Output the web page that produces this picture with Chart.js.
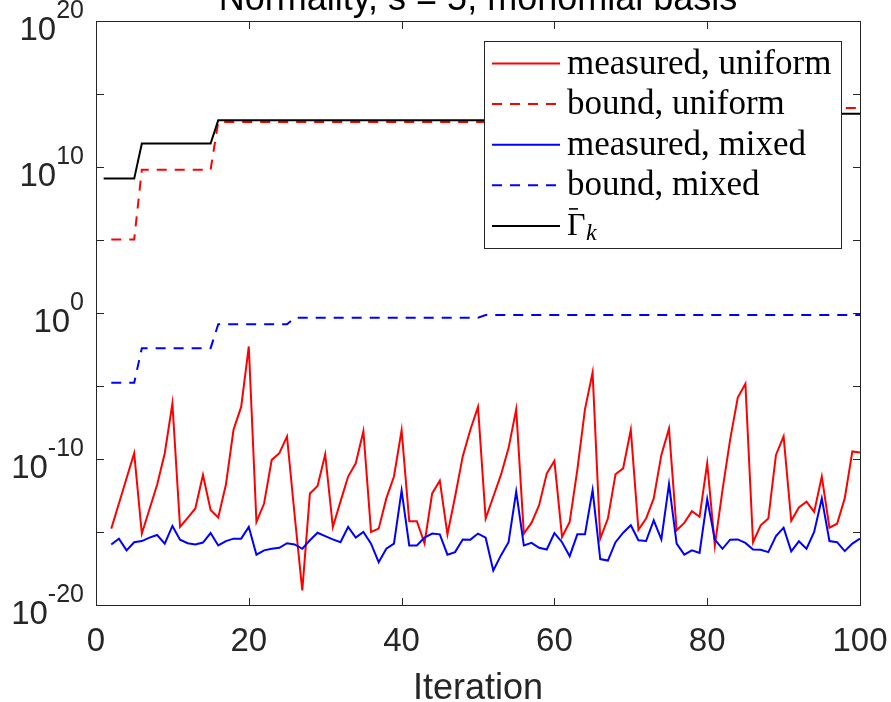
<!DOCTYPE html>
<html>
<head>
<meta charset="utf-8">
<script src="https://cdn.jsdelivr.net/npm/chart.js@4.4.1/dist/chart.umd.min.js"></script>
<style>
    html, body { margin: 0; padding: 0; background: #ffffff; }
    #wrap { width: 891px; height: 702px; }
</style>
</head>
<body>
<div id="wrap"><canvas id="chart" width="891" height="702"></canvas></div>
<script>
// ─── Data ────────────────────────────────────────────────────────────────────

// measured series, iterations 2..100
const iterations = Array.from({ length: 99 }, (_, i) => i + 2);

const measuredUniform = [
    1.7e-15, 8.9e-14, 4.8e-12, 2.5e-10, 7.9e-16, 3.6e-14, 1.7e-12, 2.5e-10, 6.3e-7,
    2.2e-15, 9.3e-15, 4.1e-14, 8.1e-12, 3.2e-14, 9.8e-15, 1.7e-12, 1.0e-8, 3.7e-7, 5.1e-3,
    4.9e-15, 8.9e-14, 8.7e-11, 2.5e-10, 3.5e-9, 1.4e-14, 1.0e-19, 4.4e-13, 1.4e-12, 2.1e-10,
    2.2e-15, 1.2e-13, 6.3e-12, 5.1e-11, 7.9e-9, 1.0e-15, 1.7e-15, 2.0e-13, 6.3e-12, 9.3e-9,
    5.5e-15, 5.5e-15, 1.7e-16, 4.4e-13, 3.3e-12, 6.9e-16, 2.6e-13, 1.5e-10, 1.0e-8, 3.7e-7,
    8.3e-15, 2.6e-13, 8.1e-12, 5.6e-10, 2.5e-7, 7.8e-16, 4.2e-15, 6.9e-14, 1.0e-11, 7.4e-11,
    4.6e-16, 4.9e-15, 1.8e-11, 2.5e-7, 8.3e-5, 3.5e-16, 8.3e-15, 8.9e-12, 2.3e-11, 1.0e-8,
    1.4e-15, 8.3e-15, 2.0e-13, 1.9e-10, 1.2e-8, 1.3e-15, 4.2e-15, 2.7e-14, 1.1e-14, 5.1e-11,
    1.2e-16, 7.4e-13, 2.1e-9, 1.6e-6, 1.4e-5, 2.0e-16, 2.9e-15, 8.3e-15, 1.9e-10, 3.5e-9,
    5.8e-15, 4.8e-14, 1.2e-13, 2.4e-14, 6.3e-12, 2.0e-15, 3.7e-15, 2.0e-13, 3.3e-10, 2.8e-10,
];

const measuredMixed = [
    1.4e-16, 3.5e-16, 5.5e-17, 2.0e-16, 2.4e-16, 4.1e-16, 6.2e-16, 1.6e-16, 2.6e-15,
    3.0e-16, 1.7e-16, 1.4e-16, 1.9e-16, 8.5e-16, 1.2e-16, 2.4e-16, 3.5e-16, 3.5e-16, 2.2e-15,
    2.8e-17, 5.5e-17, 7.1e-17, 8.3e-17, 1.7e-16, 1.4e-16, 7.1e-17, 2.7e-16, 8.9e-16, 5.2e-16,
    3.1e-16, 2.0e-16, 2.2e-15, 4.1e-16, 1.0e-15, 1.6e-16, 8.5e-18, 7.1e-17, 1.6e-16, 6.8e-13,
    1.2e-16, 1.2e-16, 4.1e-16, 7.8e-16, 6.9e-16, 2.8e-17, 4.2e-17, 3.1e-16, 3.0e-16, 7.8e-16,
    4.1e-16, 2.3e-18, 2.5e-17, 2.0e-16, 5.8e-13, 1.2e-16, 1.8e-16, 8.3e-17, 6.3e-17, 8.5e-16,
    2.0e-16, 2.2e-17, 6.9e-16, 6.9e-16, 7.4e-13, 1.4e-17, 1.1e-17, 2.0e-16, 8.9e-16, 2.9e-15,
    2.7e-16, 2.4e-16, 6.3e-15, 3.1e-16, 1.9e-12, 1.6e-16, 2.8e-17, 5.5e-17, 3.7e-17, 1.8e-13,
    3.0e-16, 7.1e-17, 3.0e-16, 3.1e-16, 1.8e-16, 6.3e-17, 6.0e-17, 4.2e-17, 5.2e-16, 2.0e-15,
    4.7e-17, 2.3e-16, 7.1e-17, 1.0e-15, 2.0e-13, 2.4e-16, 2.0e-16, 4.9e-17, 1.6e-16, 3.5e-16,
];

// step-shaped series, given by their corner points
// (the last jump of the upper two is hidden behind the legend)
const boundUniformIter = [2, 5, 6, 15, 16, 70, 71, 100];
const boundUniform     = [1.1e5, 1.1e5, 6.6e9, 6.6e9, 1.2e13, 1.2e13, 1.1e14, 1.1e14];

const boundMixedIter = [2, 5, 6, 15, 16, 25, 26, 50, 51, 100];
const boundMixed     = [1.7e-5, 1.7e-5, 3.9e-3, 3.9e-3, 0.17, 0.17, 0.48, 0.48, 0.72, 0.72];

const gammaIter = [1, 5, 6, 15, 16, 70, 71, 100];
const gammaBar  = [1.6e9, 1.6e9, 4.0e11, 4.0e11, 1.6e13, 1.6e13, 4.5e13, 4.5e13];

// axes
const xTicks = [0, 20, 40, 60, 80, 100];
const yTicks = [1e-20, 1e-15, 1e-10, 1e-5, 1e0, 1e5, 1e10, 1e15, 1e20];
const yLabelTicks = [1e-20, 1e-10, 1e0, 1e10, 1e20];
const yLabelExp = ["-20", "-10", "0", "10", "20"];

const titleText = "Normality, s = 5, monomial basis";
const xLabelText = "Iteration";

const legendItems = [
    { label: "measured, uniform", color: "#ff0000", dash: [] },
    { label: "bound, uniform", color: "#ff0000", dash: [10, 8] },
    { label: "measured, mixed", color: "#0000ff", dash: [] },
    { label: "bound, mixed", color: "#0000ff", dash: [10, 8] },
    { label: "Γ", color: "#000000", dash: [], gamma: true },
];

// ─── Helpers ────────────────────────────────────────────────────────────────

const pts = (xs, ys) => xs.map((x, i) => ({ x, y: ys[i] }));

const AXIS = "#262626";
const SANS = '"Liberation Sans", Arial, sans-serif';
const SERIF = '"Liberation Serif", "Times New Roman", serif';

function line(label, data, color, dash, order) {
    return {
        label,
        data,
        borderColor: color,
        backgroundColor: color,
        borderWidth: 2,
        borderDash: dash,
        pointRadius: 0,
        tension: 0,
        fill: false,
        order,
    };
}

// ─── Axes box, ticks, labels, legend ────────────────────────────────────────

const matlabAxes = {
    id: "matlabAxes",
    afterDatasetsDraw(chart) {
        const { ctx, chartArea: a, scales: { x, y } } = chart;
        const L = Math.round(a.left) + 0.5;
        const R = Math.round(a.right) + 0.5;
        const T = Math.round(a.top) + 0.5;
        const B = Math.round(a.bottom) + 0.5;
        const tickLen = 7.5;

        ctx.save();
        ctx.strokeStyle = AXIS;
        ctx.lineWidth = 1;
        ctx.setLineDash([]);
        ctx.strokeRect(L, T, R - L, B - T);

        ctx.beginPath();
        xTicks.forEach(v => {
            const px = Math.round(x.getPixelForValue(v)) + 0.5;
            ctx.moveTo(px, B); ctx.lineTo(px, B - tickLen);
            ctx.moveTo(px, T); ctx.lineTo(px, T + tickLen);
        });
        yTicks.forEach(v => {
            const py = Math.round(y.getPixelForValue(v)) + 0.5;
            ctx.moveTo(L, py); ctx.lineTo(L + tickLen, py);
            ctx.moveTo(R, py); ctx.lineTo(R - tickLen, py);
        });
        ctx.stroke();

        // x tick labels
        ctx.fillStyle = AXIS;
        ctx.font = `33px ${SANS}`;
        ctx.textAlign = "center";
        ctx.textBaseline = "alphabetic";
        xTicks.forEach(v => ctx.fillText(String(v), x.getPixelForValue(v), 651));

        // y tick labels: 10 with superscript exponent
        yLabelTicks.forEach((v, i) => {
            const py = y.getPixelForValue(v);
            ctx.textAlign = "right";
            ctx.font = `25px ${SANS}`;
            const ew = ctx.measureText(yLabelExp[i]).width;
            ctx.fillText(yLabelExp[i], 84, py - 3);
            ctx.font = `33px ${SANS}`;
            ctx.fillText("10", 84 - ew, py + 19);
        });

        // axis label and (cropped) title
        ctx.textAlign = "center";
        ctx.font = `36px ${SANS}`;
        ctx.fillText(xLabelText, (a.left + a.right) / 2, 699);
        ctx.fillStyle = "#000000";
        ctx.fillText(titleText, (a.left + a.right) / 2, 9.5);

        // legend
        const bx = 484.5, by = 41.5, bw = 357, bh = 207;
        ctx.fillStyle = "#ffffff";
        ctx.fillRect(bx, by, bw, bh);
        ctx.strokeStyle = AXIS;
        ctx.strokeRect(bx, by, bw, bh);

        legendItems.forEach((it, i) => {
            const cy = 63.5 + i * 40.6;
            ctx.strokeStyle = it.color;
            ctx.lineWidth = 2;
            ctx.setLineDash(it.dash);
            ctx.beginPath();
            ctx.moveTo(492, cy);
            ctx.lineTo(it.dash.length ? 556 : 560, cy);
            ctx.stroke();
            ctx.setLineDash([]);

            ctx.fillStyle = "#000000";
            ctx.textAlign = "left";
            if (it.gamma) {
                // Gamma with a bar and an italic subscript k
                ctx.font = `32px ${SERIF}`;
                ctx.fillText(it.label, 567, cy + 9);
                ctx.strokeStyle = "#000000";
                ctx.lineWidth = 1.6;
                ctx.beginPath();
                ctx.moveTo(569, cy - 17);
                ctx.lineTo(578, cy - 17);
                ctx.stroke();
                ctx.font = `italic 24px ${SERIF}`;
                ctx.fillText("k", 586, cy + 14);
            } else {
                ctx.font = `35px ${SERIF}`;
                ctx.fillText(it.label, 567, cy + 10);
            }
        });
        ctx.restore();
    },
};

// ─── Chart ──────────────────────────────────────────────────────────────────

new Chart(document.getElementById("chart"), {
    type: "line",
    data: {
        datasets: [
            line("measured, uniform", pts(iterations, measuredUniform), "#ff0000", [], 5),
            line("bound, uniform", pts(boundUniformIter, boundUniform), "#ff0000", [10, 8], 4),
            line("measured, mixed", pts(iterations, measuredMixed), "#0000ff", [], 3),
            line("bound, mixed", pts(boundMixedIter, boundMixed), "#0000ff", [10, 8], 2),
            line("Gamma bar k", pts(gammaIter, gammaBar), "#000000", [], 1),
        ],
    },
    options: {
        responsive: false,
        animation: false,
        events: [],
        layout: { padding: { left: 96, right: 31, top: 21, bottom: 97 } },
        plugins: {
            legend: { display: false },
            tooltip: { enabled: false },
            title: { display: false },
        },
        scales: {
            x: { type: "linear", min: 0, max: 100, display: false },
            y: { type: "logarithmic", min: 1e-20, max: 1e20, display: false },
        },
    },
    plugins: [matlabAxes],
});
</script>
</body>
</html>
